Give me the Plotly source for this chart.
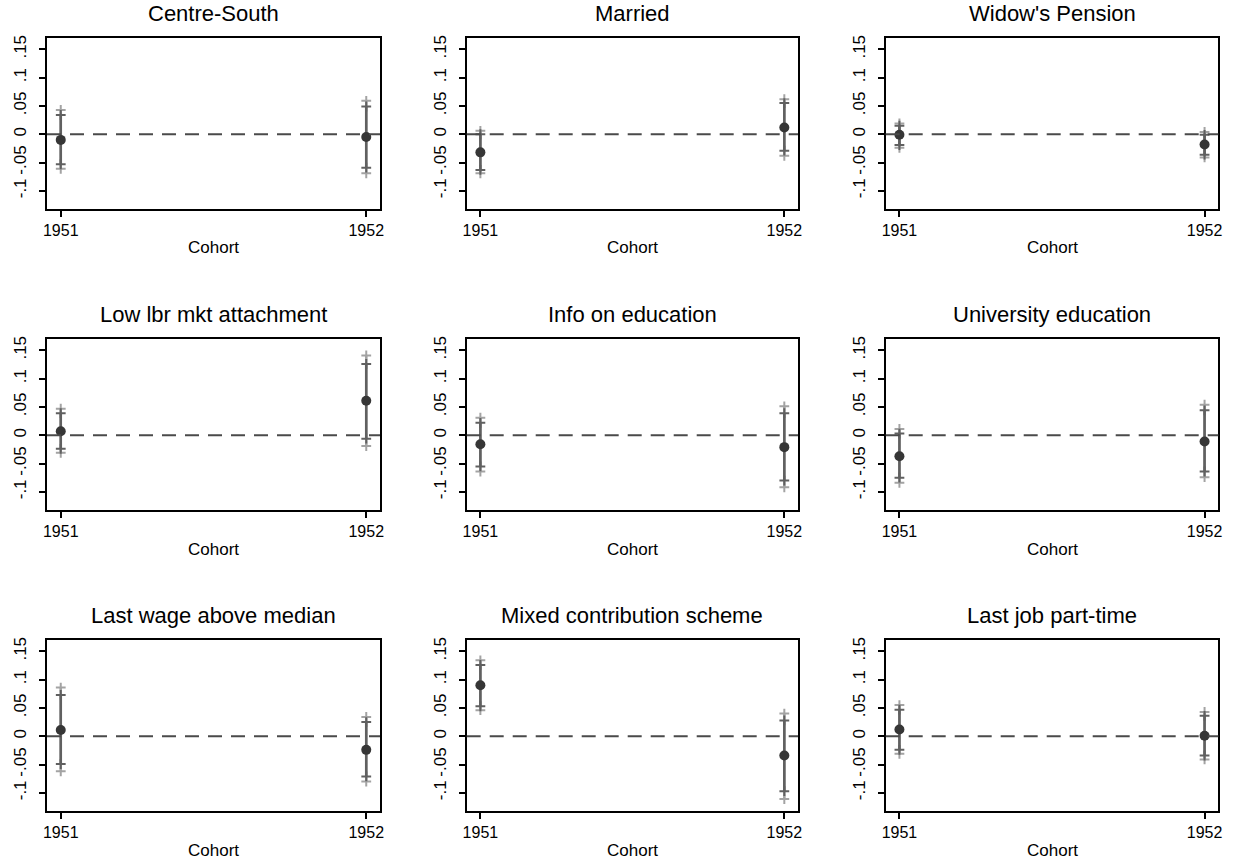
import plotly.graph_objects as go
from plotly.subplots import make_subplots

# ---------------- data ----------------
panel_titles = ["Centre-South", "Married", "Widow's Pension",
                "Low lbr mkt attachment", "Info on education", "University education",
                "Last wage above median", "Mixed contribution scheme", "Last job part-time"]
cohorts = [1951, 1952]

coef = [[-0.010, -0.005], [-0.032, 0.012], [-0.001, -0.018],
        [0.007, 0.061], [-0.016, -0.021], [-0.037, -0.011],
        [0.011, -0.024], [0.090, -0.034], [0.012, 0.001]]
ci90_lo = [[-0.053, -0.059], [-0.063, -0.029], [-0.019, -0.036],
           [-0.024, -0.006], [-0.055, -0.080], [-0.075, -0.064],
           [-0.049, -0.071], [0.053, -0.097], [-0.024, -0.034]]
ci90_hi = [[0.034, 0.049], [0.000, 0.055], [0.015, -0.001],
           [0.039, 0.126], [0.022, 0.039], [0.003, 0.044],
           [0.073, 0.025], [0.126, 0.028], [0.047, 0.036]]
ci95_lo = [[-0.061, -0.069], [-0.069, -0.038], [-0.024, -0.041],
           [-0.031, -0.019], [-0.064, -0.092], [-0.084, -0.074],
           [-0.062, -0.080], [0.046, -0.111], [-0.031, -0.041]]
ci95_hi = [[0.043, 0.059], [0.006, 0.062], [0.019, 0.004],
           [0.047, 0.141], [0.031, 0.051], [0.011, 0.054],
           [0.086, 0.034], [0.134, 0.040], [0.055, 0.043]]

y_tickvals = [-0.1, -0.05, 0, 0.05, 0.1, 0.15]
y_ticktext = ["-.1", "-.05", "0", ".05", ".1", ".15"]
x_title = "Cohort"

# ---------------- layout geometry ----------------
W, H = 1234, 862
col_px = [(47, 380), (466.7, 798), (885.7, 1218.3)]
row_px = [(37.7, 209), (338.7, 510), (639.7, 811)]
FONT = "Liberation Sans, Arial, Helvetica, sans-serif"

fig = make_subplots(rows=3, cols=3)

def seg_xy(xs, lo, hi):
    X, Y = [], []
    for x, a, b in zip(xs, lo, hi):
        X += [x, x, None]
        Y += [a, b, None]
    return X, Y

for i, title in enumerate(panel_titles):
    r, c = i // 3 + 1, i % 3 + 1
    # outer (95%) CI
    X, Y = seg_xy(cohorts, ci95_lo[i], ci95_hi[i])
    fig.add_trace(go.Scatter(x=X, y=Y, mode="lines+markers",
                             line=dict(color="#a3a3a3", width=2.4),
                             marker=dict(symbol="cross-thin", size=7,
                                         line=dict(color="#a3a3a3", width=2)),
                             showlegend=False, hoverinfo="skip"), row=r, col=c)
    # inner (90%) CI
    X, Y = seg_xy(cohorts, ci90_lo[i], ci90_hi[i])
    fig.add_trace(go.Scatter(x=X, y=Y, mode="lines+markers",
                             line=dict(color="#606060", width=2.6),
                             marker=dict(symbol="cross-thin", size=7,
                                         line=dict(color="#606060", width=2)),
                             showlegend=False, hoverinfo="skip"), row=r, col=c)
    # point estimates
    fig.add_trace(go.Scatter(x=cohorts, y=coef[i], mode="markers",
                             marker=dict(symbol="circle", size=10, color="#363636"),
                             showlegend=False), row=r, col=c)
    fig.add_hline(y=0, line=dict(color="#4a4a4a", width=1.8, dash="14px,9px"),
                  row=r, col=c)

    xl, xr = col_px[c - 1]
    yt, yb = row_px[r - 1]
    fig.update_xaxes(domain=[xl / W, xr / W], range=[1950.955, 1952.045],
                     tickvals=cohorts, ticktext=[str(v) for v in cohorts],
                     showline=True, mirror=True, linecolor="black", linewidth=1.6,
                     ticks="outside", ticklen=6, tickwidth=1.5, tickcolor="black",
                     showgrid=False, zeroline=False, automargin=False,
                     tickfont=dict(family=FONT, size=16, color="black"),
                     row=r, col=c)
    fig.update_yaxes(domain=[1 - yb / H, 1 - yt / H], range=[-0.132, 0.1705],
                     tickvals=y_tickvals, ticktext=y_ticktext, tickangle=-90,
                     showline=True, mirror=True, linecolor="black", linewidth=1.6,
                     ticks="outside", ticklen=6, tickwidth=1.5, tickcolor="black",
                     showgrid=False, zeroline=False, automargin=False,
                     ticklabelstandoff=6,
                     tickfont=dict(family=FONT, size=17, color="black"),
                     row=r, col=c)
    cx = (xl + xr) / 2 / W
    fig.add_annotation(x=cx, y=1 - (yt - 24) / H, xref="paper", yref="paper",
                       text=title, showarrow=False, xanchor="center", yanchor="middle",
                       font=dict(family=FONT, size=22, color="black"))
    fig.add_annotation(x=cx, y=1 - (yb + 39) / H, xref="paper", yref="paper",
                       text=x_title, showarrow=False, xanchor="center", yanchor="middle",
                       font=dict(family=FONT, size=17, color="black"))

fig.update_layout(width=W, height=H, margin=dict(l=0, r=0, t=0, b=0, pad=0),
                  paper_bgcolor="white", plot_bgcolor="white",
                  font=dict(family=FONT, color="black"))

fig.write_html("out.html", config={"displayModeBar": False},
               post_script="document.body.style.margin='0px';")
